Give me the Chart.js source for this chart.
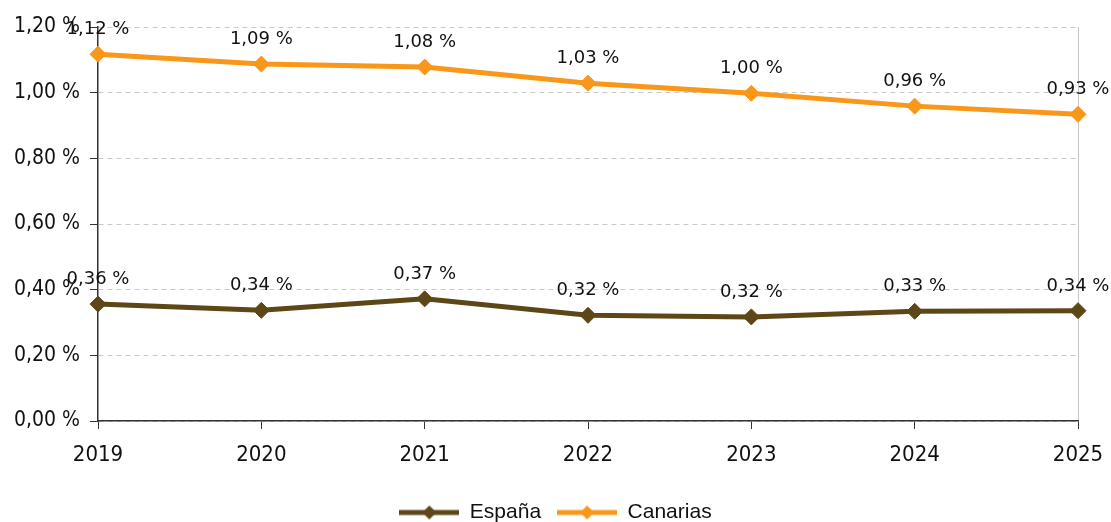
<!DOCTYPE html>
<html lang="es">
<head>
  <meta charset="UTF-8">
  <title>España / Canarias</title>
  <script src="https://cdn.jsdelivr.net/npm/chart.js"></script>
  <style>
    html, body { margin: 0; padding: 0; background: #fff; }
    #wrap { width: 1111px; height: 522px; }
  </style>
</head>
<body>
  <div id="wrap"><canvas id="lineChart" width="1111" height="522"></canvas></div>

  <script>
    // data
    const years = ['2019', '2020', '2021', '2022', '2023', '2024', '2025'];
    const espana = [0.356, 0.337, 0.372, 0.322, 0.317, 0.334, 0.336];
    const canarias = [1.117, 1.087, 1.078, 1.029, 0.998, 0.959, 0.934];
    const yTicks = [0, 0.2, 0.4, 0.6, 0.8, 1.0, 1.2];

    const brown = '#5e4716';
    const orange = '#f8971a';
    const tickFont = '"DejaVu Sans Condensed", "DejaVu Sans", sans-serif';

    function pct(v) {
      return v.toFixed(2).replace('.', ',') + ' %';
    }

    // little line + diamond sample for the legend
    function legendSwatch(color) {
      const c = document.createElement('canvas');
      c.width = 60; c.height = 18;
      const g = c.getContext('2d');
      g.strokeStyle = color;
      g.lineWidth = 5;
      g.beginPath(); g.moveTo(0, 9); g.lineTo(60, 9); g.stroke();
      g.fillStyle = color;
      g.beginPath(); g.moveTo(30, 2); g.lineTo(37, 9); g.lineTo(30, 16); g.lineTo(23, 9); g.closePath(); g.fill();
      return c;
    }

    // value labels above each point
    const valueLabels = {
      id: 'valueLabels',
      afterDatasetsDraw(chart) {
        const ctx = chart.ctx;
        ctx.save();
        ctx.font = '18px "DejaVu Sans", sans-serif';
        ctx.fillStyle = '#111';
        ctx.textAlign = 'center';
        ctx.textBaseline = 'alphabetic';
        chart.data.datasets.forEach((ds, i) => {
          chart.getDatasetMeta(i).data.forEach((pt, j) => {
            ctx.fillText(pct(ds.data[j]), pt.x, pt.y - 20);
          });
        });
        ctx.restore();
      }
    };

    const ctx = document.getElementById('lineChart').getContext('2d');
    new Chart(ctx, {
      type: 'line',
      data: {
        labels: years,
        datasets: [
          {
            label: 'España',
            data: espana,
            borderColor: brown,
            backgroundColor: brown,
            borderWidth: 5,
            pointStyle: 'rectRot',
            pointRadius: 8,
            pointBorderWidth: 1,
            tension: 0
          },
          {
            label: 'Canarias',
            data: canarias,
            borderColor: orange,
            backgroundColor: orange,
            borderWidth: 5,
            pointStyle: 'rectRot',
            pointRadius: 8,
            pointBorderWidth: 1,
            tension: 0
          }
        ]
      },
      options: {
        responsive: false,
        animation: false,
        layout: { padding: { left: 0, right: 0, top: 27, bottom: -11 } },
        scales: {
          x: {
            offset: false,
            afterFit(scale) {
              scale.height = 65;
              scale.paddingLeft = 0;
              scale.paddingRight = 33;
            },
            grid: {
              offset: false,
              color: (c) => c.index === years.length - 1 ? '#c8c8c8' : 'rgba(0,0,0,0)',
              tickColor: '#333',
              tickLength: 8
            },
            border: { color: '#333', width: 1.5 },
            ticks: {
              color: '#111',
              font: { family: tickFont, size: 22 },
              padding: 13,
              maxRotation: 0
            }
          },
          y: {
            min: 0,
            max: 1.2,
            afterFit(scale) {
              scale.width = 98;
              scale.paddingTop = 0;
              scale.paddingBottom = 0;
            },
            afterBuildTicks(scale) { scale.ticks = yTicks.map(v => ({ value: v })); },
            grid: {
              color: '#c8c8c8',
              tickColor: '#333',
              tickLength: 8
            },
            border: { color: '#333', width: 1.5, dash: [5, 4] },
            ticks: {
              color: '#111',
              font: { family: tickFont, size: 21 },
              padding: 10,
              callback: (v) => pct(v)
            }
          }
        },
        plugins: {
          legend: {
            position: 'bottom',
            labels: {
              usePointStyle: true,
              pointStyleWidth: 60,
              padding: 16,
              color: '#111',
              font: { family: '"Liberation Sans", Arial, sans-serif', size: 21 },
              generateLabels(chart) {
                const items = Chart.defaults.plugins.legend.labels.generateLabels(chart);
                items.forEach(it => {
                  it.pointStyle = legendSwatch(chart.data.datasets[it.datasetIndex].borderColor);
                });
                return items;
              }
            }
          },
          tooltip: { enabled: false }
        }
      },
      plugins: [valueLabels]
    });
  </script>
</body>
</html>
